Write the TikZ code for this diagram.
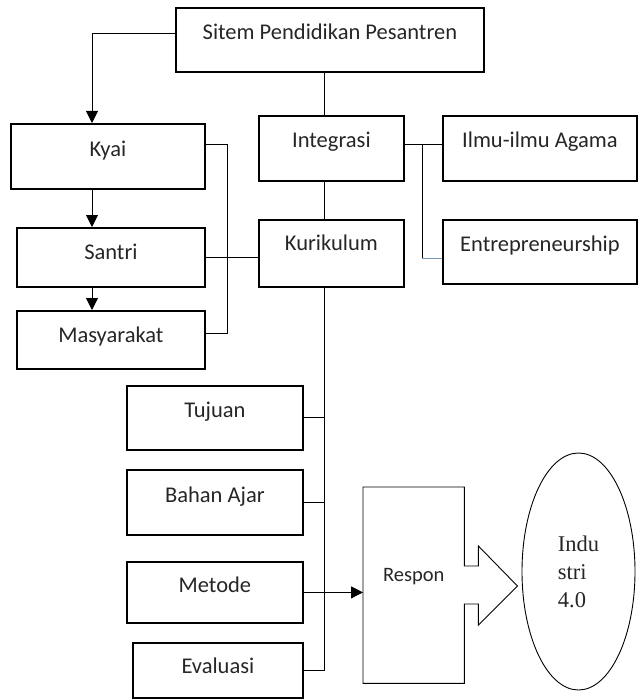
\documentclass[tikz,border=0pt]{standalone}
\usepackage{fontspec}
\setmainfont{Carlito}
\newfontfamily\hurufserif{Liberation Serif}
\usetikzlibrary{arrows.meta, positioning, calc, shapes.geometric}
\definecolor{garisbiru}{RGB}{120,150,180}

\begin{document}
\begin{tikzpicture}[x=1bp, y=-1bp,
  kotak/.style={draw, line width=1.8bp, anchor=north west, inner sep=0pt,
    text=black!85, text height=15bp, text depth=15bp,
    font=\fontsize{22.5bp}{27bp}\selectfont},
  garis/.style={line width=0.9bp},
  panah/.style={garis, -{Triangle[length=12bp, width=12bp]}}]
  \useasboundingbox (0,0) rectangle (638,699);
  % kotak utama
  \node[kotak, minimum width=308bp, minimum height=64bp] (sitem) at (175,7) {Sitem Pendidikan Pesantren};
  % kolom kiri
  \node[kotak, minimum width=194bp, minimum height=65bp] (kyai) at (10,123) {Kyai};
  \node[kotak, minimum width=188bp, minimum height=59bp, text depth=11bp] (santri) at (16,227) {Santri};
  \node[kotak, minimum width=188bp, minimum height=58bp, text depth=10bp] (masyarakat) at (16,310) {Masyarakat};
  % kolom tengah dan kanan
  \node[kotak, minimum width=145bp, minimum height=65bp, text depth=17bp] (integrasi) at (258,115) {Integrasi};
  \node[kotak, minimum width=194bp, minimum height=65bp, text depth=17bp] (ilmu) at (442,115) {Ilmu-ilmu Agama};
  \node[kotak, minimum width=145bp, minimum height=67bp, text depth=20bp] (kurikulum) at (258,219) {Kurikulum};
  \node[kotak, minimum width=194bp, minimum height=64bp] (entre) at (442,219) {Entrepreneurship};
  % komponen kurikulum
  \node[kotak, minimum width=176bp, minimum height=64bp] (tujuan) at (126,385) {Tujuan};
  \node[kotak, minimum width=176bp, minimum height=65bp] (bahan) at (126,469) {Bahan Ajar};
  \node[kotak, minimum width=176bp, minimum height=61bp] (metode) at (126,561) {Metode};
  \node[kotak, minimum width=170bp, minimum height=55bp, text depth=9bp] (evaluasi) at (132,642) {Evaluasi};
  % respon dan industri
  \node[anchor=north west, inner sep=0pt, minimum width=101bp, minimum height=196bp,
    text=black!85, text height=15bp, text depth=22bp,
    font=\fontsize{20.5bp}{25bp}\selectfont] (respon) at (363,487) {Respon};
  \draw[garis] (respon.north west) -- (respon.north east) -- ++(0,79) -- ++(14,0)
    -- ++(0,-20) -- ++(39,40) -- ++(-39,39) -- ++(0,-21) -- ++(-14,0)
    -- (respon.south east) -- (respon.south west) -- cycle;
  \node[draw, ellipse, garis, minimum width=113bp, minimum height=237bp, inner sep=0pt,
    align=left, text=black!85, font=\hurufserif\fontsize{22.5bp}{28bp}\selectfont]
    (industri) at (578.5,571.5) {Indu\\stri\\4.0};
  % jalur garis
  \coordinate (jalur) at (92,0);
  \coordinate (kiri) at (227,0);
  \coordinate (poros) at (324,0);
  \coordinate (cabang) at (422,0);
  \draw[panah] ([yshift=6bp]sitem.west) -| (kyai.north -| jalur);
  \draw[panah] (kyai.south -| jalur) -- (santri.north -| jalur);
  \draw[panah] (santri.south -| jalur) -- (masyarakat.north -| jalur);
  \draw[garis] ([yshift=12bp]kyai.east) -- ([yshift=12bp]kyai.east -| kiri) |- ([yshift=6bp]masyarakat.east);
  \draw[garis] (santri.east) -- (santri.east -| kurikulum.west);
  \draw[garis] (sitem.south -| poros) -- (integrasi.north -| poros);
  \draw[garis] (integrasi.south -| poros) -- (kurikulum.north -| poros);
  \draw[garis] (kurikulum.south -| poros) |- (evaluasi.east);
  \draw[garis] (tujuan.east) -- (tujuan.east -| poros);
  \draw[garis] (bahan.east) -- (bahan.east -| poros);
  \draw[panah] (metode.east) -- (metode.east -| respon.west);
  \draw[garis] ([yshift=4bp]integrasi.east) -- ([yshift=4bp]integrasi.east -| ilmu.west);
  \draw[garis] ([yshift=4bp]integrasi.east -| cabang) -- ([yshift=-7bp]entre.west -| cabang);
  \draw[garis, draw=garisbiru] ([yshift=-7bp]entre.west -| cabang) -- ([yshift=-7bp]entre.west);
\end{tikzpicture}
\end{document}
